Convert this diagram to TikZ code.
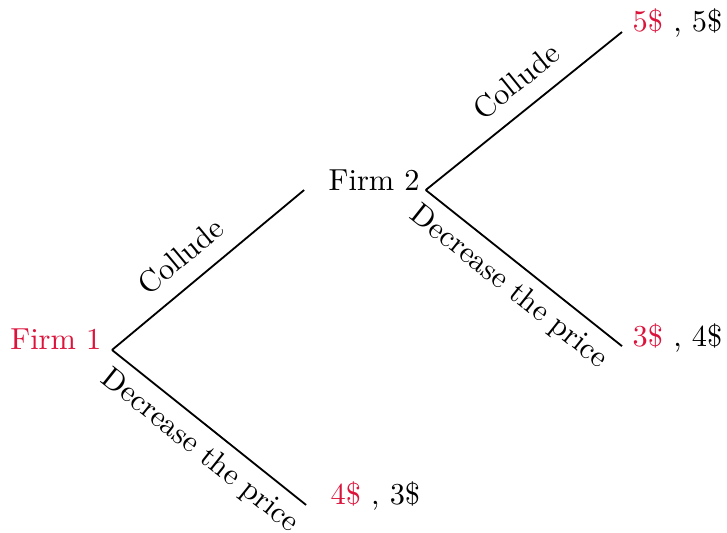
\documentclass[tikz,border=0pt]{standalone}
\usepackage{tikz}
\usetikzlibrary{positioning}
\definecolor{crimson}{RGB}{220,20,60}
\tikzset{
  % nama pemain di tiap simpul
  player/.style={inner sep=3.33pt},
  % hasil akhir (firm 1 , firm 2)
  payoff/.style={inner sep=3.33pt, anchor=base west},
  % cabang keputusan
  branch/.style={semithick, black},
  choice/.style={sloped, inner sep=3.33pt},
}

\begin{document}
\begin{tikzpicture}
\useasboundingbox (0,0) rectangle (8.405,6.162);

% =================== SIMPUL ===================
\node[player, crimson, anchor=base east] (firmone) at (1.295,2.116) {Firm 1};
\node[player, anchor=base west] (firmtwo) at (3.676,3.965) {Firm 2};

\node[payoff] (cc) at (7.191,5.792) {\textcolor{crimson}{5\$} , 5\$};
\node[payoff] (cd) at (7.191,2.160) {\textcolor{crimson}{3\$} , 4\$};
\node[payoff] (dd) at (3.699,0.324) {\textcolor{crimson}{4\$} , 3\$};

% =================== CABANG ===================
\draw[branch] (firmone.base east) -- node[choice,above=2pt,pos=.45]{Collude} ([xshift=-.16cm]firmtwo.base west);
\draw[branch] (firmone.base east) -- node[choice,below,pos=.53]{Decrease the price} ([xshift=-.16cm]dd.base west);
\draw[branch] ([xshift=-1.5pt]firmtwo.base east) -- node[choice,above=2pt,pos=.55]{Collude} (cc.base west);
\draw[branch] ([xshift=-1.5pt]firmtwo.base east) -- node[choice,below]{Decrease the price} (cd.base west);

\end{tikzpicture}
\end{document}
